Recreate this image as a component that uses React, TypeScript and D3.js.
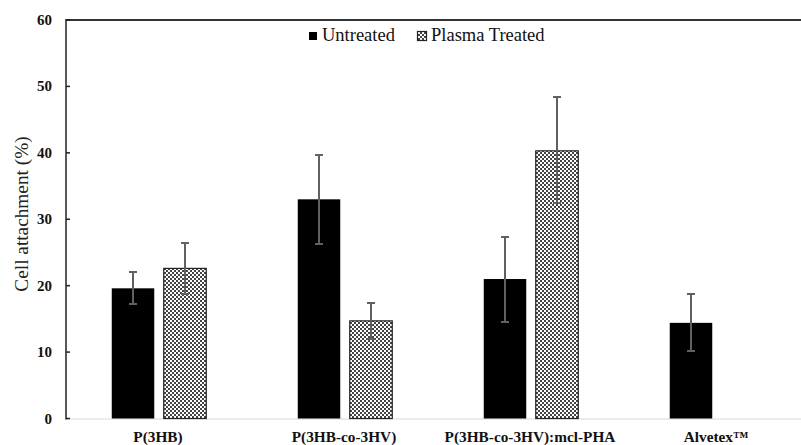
import React from "react";
import * as d3 from "d3";

const categories = ["P(3HB)", "P(3HB-co-3HV)", "P(3HB-co-3HV):mcl-PHA", "Alvetex™"];
const seriesNames = ["Untreated", "Plasma Treated"];
const untreated = [19.6, 33.0, 21.0, 14.4];
const untreatedLow = [17.3, 26.3, 14.6, 10.1];
const untreatedHigh = [22.0, 39.7, 27.3, 18.7];
const plasma: (number | null)[] = [22.6, 14.7, 40.3, null];
const plasmaLow: (number | null)[] = [18.7, 12.0, 32.4, null];
const plasmaHigh: (number | null)[] = [26.4, 17.4, 48.4, null];
const yTicks = [0, 10, 20, 30, 40, 50, 60];

export default function App() {
  const W = 801, H = 445;
  const left = 66, right = 810, top = 20, bottom = 418.5;
  const x = d3.scaleBand<string>().domain(categories).range([left, right]).paddingInner(0).paddingOuter(0);
  const y = d3.scaleLinear().domain([0, 60]).range([bottom, top]);
  const barW = 42.5;
  const gap = 9.5;
  const serif = "Liberation Serif";

  const bars: { cat: string; i: number; s: number; v: number; lo: number; hi: number }[] = [];
  categories.forEach((c, i) => {
    bars.push({ cat: c, i, s: 0, v: untreated[i], lo: untreatedLow[i], hi: untreatedHigh[i] });
    if (plasma[i] != null) bars.push({ cat: c, i, s: 1, v: plasma[i] as number, lo: plasmaLow[i] as number, hi: plasmaHigh[i] as number });
  });
  const barX = (cat: string, s: number) => {
    const c = (x(cat) as number) + x.bandwidth() / 2;
    return s === 0 ? c - gap / 2 - barW : c + gap / 2;
  };

  return (
    <svg width={W} height={H} style={{ position: "absolute", left: 0, top: 0, background: "#fff", fontFamily: serif }}>
      <defs>
        <pattern id="checker" width="4" height="4" patternUnits="userSpaceOnUse">
          <rect width="4" height="4" fill="#fff" />
          <rect width="2" height="2" fill="#444" />
          <rect x="2" y="2" width="2" height="2" fill="#444" />
        </pattern>
      </defs>
      <rect width={W} height={H} fill="#fff" />
      <line x1={left} x2={W} y1={bottom + 0.5} y2={bottom + 0.5} stroke="#d9d9d9" strokeWidth={1} />
      <line x1={left} x2={W} y1={top} y2={top} stroke="#333" strokeWidth={2} />
      <line x1={left} x2={left} y1={top - 1} y2={bottom + 1} stroke="#222" strokeWidth={1.5} />
      {yTicks.map((t) => (
        <g key={t}>
          <line x1={left} x2={left + 4} y1={y(t)} y2={y(t)} stroke="#222" strokeWidth={1.5} />
          <text x={52} y={y(t) + 5} textAnchor="end" style={{ fontFamily: serif }} fontWeight="bold" fontSize={15} fill="#111">{t}</text>
        </g>
      ))}
      <text transform={`translate(28,214) rotate(-90)`} textAnchor="middle" style={{ fontFamily: serif }} fontSize={19.3} fill="#222">Cell attachment (%)</text>
      {bars.map((b, k) => {
        const bx = barX(b.cat, b.s);
        const cx = Math.round(bx + barW / 2);
        return (
          <g key={k}>
            <rect x={bx} y={y(b.v)} width={barW} height={bottom - y(b.v)} fill={b.s === 0 ? "#000" : "url(#checker)"} stroke={b.s === 0 ? "#000" : "#222"} strokeWidth={b.s === 0 ? 0 : 1.2} />
            <rect x={cx - 1} y={y(b.hi)} width={2} height={y(b.lo) - y(b.hi)} fill="#606060" shapeRendering="crispEdges" />
            <rect x={cx - 4} y={y(b.hi) - 1} width={8} height={2} fill="#606060" shapeRendering="crispEdges" />
            <rect x={cx - 4} y={y(b.lo) - 1} width={8} height={2} fill="#606060" shapeRendering="crispEdges" />
          </g>
        );
      })}
      {categories.map((c) => (
        <text key={c} x={(x(c) as number) + x.bandwidth() / 2 - 1} y={442} textAnchor="middle" style={{ fontFamily: serif }} fontWeight="bold" fontSize={15.3} fill="#111">{c}</text>
      ))}
      <rect x={309} y={32} width={8} height={8} fill="#000" />
      <text x={322} y={41} style={{ fontFamily: serif }} fontSize={18.5} fill="#111">{seriesNames[0]}</text>
      <rect x={417.5} y={31.5} width={9} height={9} fill="url(#checker)" stroke="#222" strokeWidth={1.2} />
      <text x={431} y={41} style={{ fontFamily: serif }} fontSize={18.5} fill="#111">{seriesNames[1]}</text>
    </svg>
  );
}
